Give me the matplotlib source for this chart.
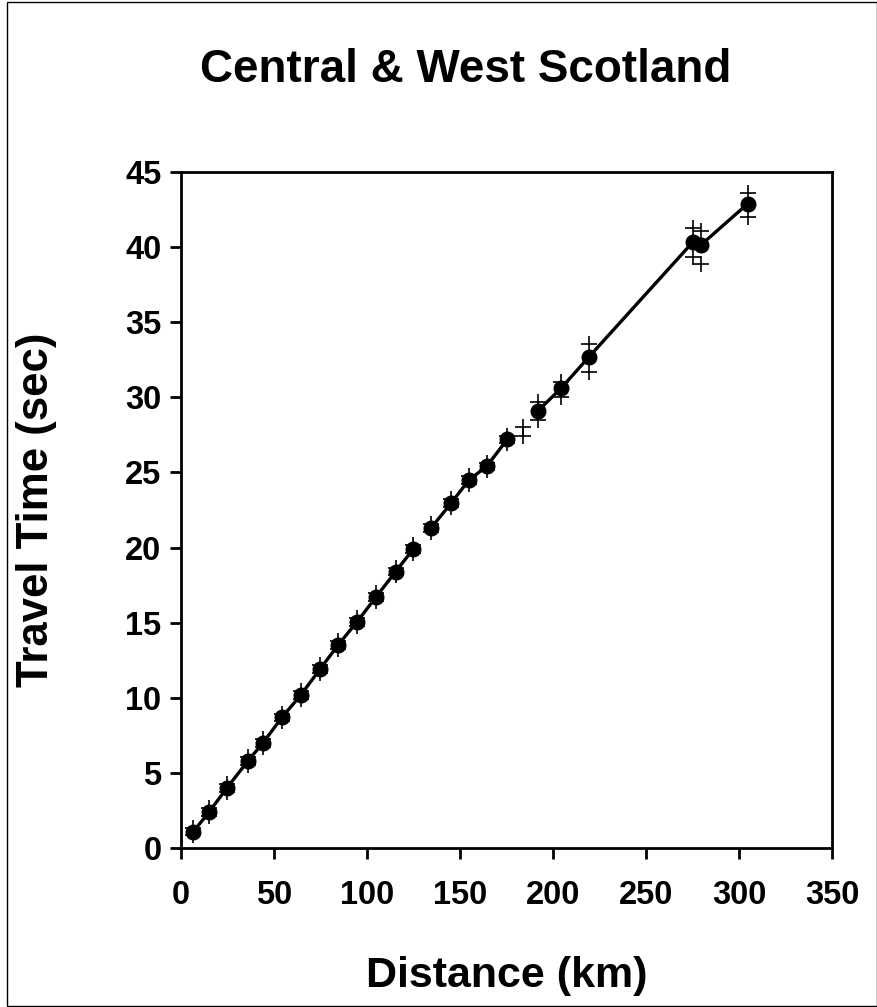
import numpy as np
import matplotlib
matplotlib.use("Agg")
import matplotlib.pyplot as plt
from matplotlib.patches import Rectangle

plt.rcParams['font.family'] = ['Liberation Sans', 'DejaVu Sans']
plt.rcParams['font.weight'] = 'bold'

# observed travel times (dots)
dist = [6.5, 15.1, 24.7, 36.0, 44.1, 54.3, 64.5, 74.7, 84.4, 94.6,
        104.8, 115.4, 124.9, 134.4, 145.2, 154.8, 164.3, 175.4,
        191.9, 204.3, 219.4, 275.3, 279.6, 304.8]
time = [1.07, 2.4, 4.0, 5.8, 7.0, 8.7, 10.2, 11.9, 13.5, 15.05,
        16.7, 18.4, 19.9, 21.3, 22.95, 24.5, 25.4, 27.2,
        29.1, 30.6, 32.7, 40.35, 40.15, 42.9]

# upper / lower bounds (crosses)
bound_x = [6.5, 15.1, 24.7, 36.0, 44.1, 54.3, 64.5, 74.7, 84.4, 94.6,
           104.8, 115.4, 124.9, 134.4, 145.2, 154.8, 164.3, 175.4, 183.9,
           191.9, 204.3, 219.4, 275.3, 279.6, 304.8]
upper = [1.3, 2.65, 4.25, 6.05, 7.25, 8.95, 10.45, 12.15, 13.75, 15.3,
         16.95, 18.65, 20.15, 21.55, 23.2, 24.75, 25.65, 27.45, 28.0,
         29.7, 31.0, 33.55, 41.3, 41.1, 43.6]
lower = [0.85, 2.15, 3.75, 5.55, 6.75, 8.45, 9.95, 11.65, 13.25, 14.8,
         16.45, 18.15, 19.65, 21.05, 22.7, 24.25, 25.15, 26.95, 27.4,
         28.5, 30.0, 31.7, 39.35, 38.85, 42.0]

# line segments (index ranges into dist/time)
segments = [(0, 13), (13, 18), (18, 24)]

x_ticks = [0, 50, 100, 150, 200, 250, 300, 350]
y_ticks = [0, 5, 10, 15, 20, 25, 30, 35, 40, 45]

fig = plt.figure(figsize=(8.78, 10.07), dpi=100)
ax = fig.add_axes([181/878, 1-848/1007, (832-181)/878, (848-172)/1007])

for a, b in segments:
    ax.plot(dist[a:b], time[a:b], color='black', lw=2.4, zorder=2)
ax.plot(bound_x, upper, ls='none', marker='+', ms=12, mew=1.2, color='black', zorder=3)
ax.plot(bound_x, lower, ls='none', marker='+', ms=12, mew=1.2, color='black', zorder=3)
ax.plot(dist, time, ls='none', marker='o', ms=10.5, color='black', zorder=4)

ax.set_xlim(0, 350)
ax.set_ylim(0, 45)
ax.set_xticks(x_ticks)
ax.set_yticks(y_ticks)
ax.tick_params(direction='out', length=8, width=2, labelsize=23.5)
ax.tick_params(axis='x', pad=15)
ax.tick_params(axis='y', pad=6)
for lab in ax.get_xticklabels() + ax.get_yticklabels():
    lab.set_fontweight('bold')
for s in ax.spines.values():
    s.set_linewidth(2)

ax.set_xlabel('Distance (km)', fontsize=31, fontweight='bold')
ax.set_ylabel('Travel Time (sec)', fontsize=31.5, fontweight='bold')
ax.xaxis.set_label_coords(0.5, (848-976)/676)
ax.yaxis.set_label_coords((37-181)/651, 0.5)
ax.xaxis.label.set_va('center')
ax.yaxis.label.set_va('center')

fig.text(466/878, 1-70/1007, 'Central & West Scotland', fontsize=33,
         fontweight='bold', ha='center', va='center')

fig.patches.append(Rectangle((7/878, 0.0005), 1-7/878-0.001, 0.998,
                             transform=fig.transFigure, fill=False,
                             edgecolor='black', lw=1))

fig.savefig('out.png', dpi=100)
